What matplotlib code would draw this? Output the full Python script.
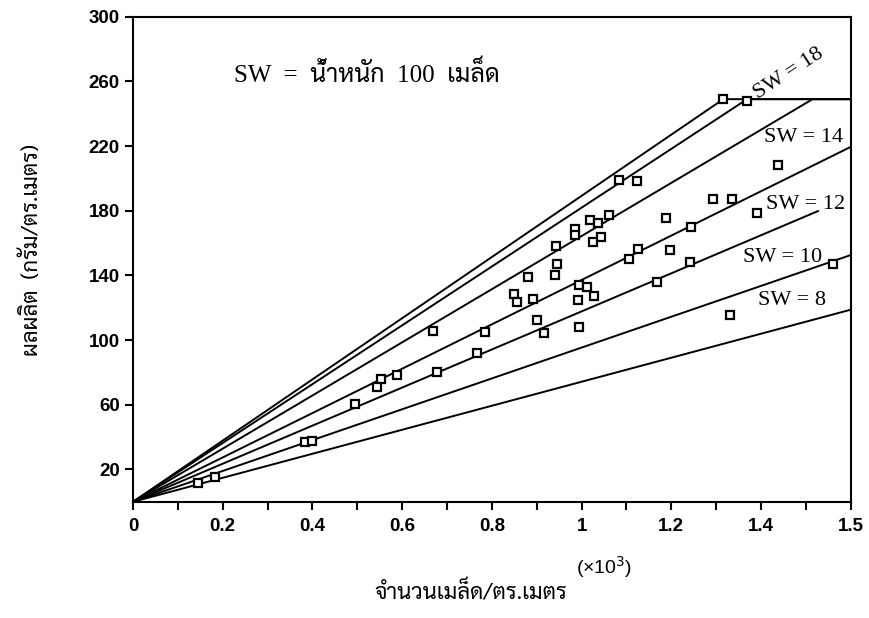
import numpy as np
import matplotlib
matplotlib.use("Agg")
import matplotlib.pyplot as plt

# seed density (x10^3 seeds/m2) vs yield (g/m2)
x_pts = [1.084, 1.124, 1.292, 1.336, 1.390, 1.188, 1.061, 1.018, 1.036, 0.985,
         0.985, 1.043, 1.026, 0.942, 1.126, 1.197, 1.106, 0.946, 1.241, 0.940,
         0.880, 0.995, 1.013, 1.027, 0.850, 0.857, 0.891, 0.992, 1.169, 1.245,
         0.901, 0.916, 0.994, 0.784, 0.668, 0.768, 0.552, 0.543, 0.588, 0.677,
         0.495, 0.383, 0.398, 0.183, 0.146, 1.438, 1.561, 1.330, 1.316, 1.369]
y_pts = [198.9, 198.3, 187.1, 187.1, 178.3, 175.6, 177.2, 174.5, 172.7, 168.9,
         165.2, 163.8, 160.7, 158.0, 156.5, 155.5, 149.9, 146.8, 148.6, 140.4,
         139.3, 134.2, 132.7, 127.5, 128.6, 123.8, 125.5, 124.8, 136.2, 170.0,
         112.6, 104.3, 107.9, 104.8, 105.8, 92.3, 76.2, 71.0, 78.4, 80.3,
         60.7, 36.8, 37.4, 15.1, 11.6, 208.2, 147.2, 115.5, 249.0, 248.0]

# reference lines for different 100-seed weights (SW)
line_x = [[0, 1.316, 1.6], [0, 1.369, 1.6], [0, 1.515, 1.6],
          [0, 1.6], [0, 1.527], [0, 1.6], [0, 1.6]]
line_y = [[0, 249, 249], [0, 249, 249], [0, 249, 249],
          [0, 219.5], [0, 179.8], [0, 152.6], [0, 118.8]]

sw_labels = ["SW = 18", "SW = 14", "SW = 12", "SW = 10", "SW = 8"]
sw_pos = [(1.462, 265), (1.495, 225), (1.50, 184), (1.447, 151), (1.47, 124.5)]
sw_rot = [33, 0, 0, 0, 0]

xticks = [0, 0.2, 0.4, 0.6, 0.8, 1.0, 1.2, 1.4, 1.6]
xticklabels = ["0", "0.2", "0.4", "0.6", "0.8", "1", "1.2", "1.4", "1.5"]
yticks = [20, 60, 100, 140, 180, 220, 260, 300]

thai = ["Sarabun", "DejaVu Sans"]
serif_thai = ["Liberation Serif", "Sarabun", "DejaVu Sans"]

fig = plt.figure(figsize=(8.69, 6.18), dpi=100)
ax = fig.add_axes([0.153, 0.188, 0.826, 0.785])

for lx, ly in zip(line_x, line_y):
    ax.plot(lx, ly, color="black", lw=1.4, zorder=2)

ax.plot(x_pts, y_pts, linestyle="none", marker="s", ms=6, mfc="white",
        mec="black", mew=1.6, zorder=3)

for lab, (tx, ty), rot in zip(sw_labels, sw_pos, sw_rot):
    ax.text(tx, ty, lab, ha="center", va="center", rotation=rot,
            fontsize=16, family="Liberation Serif", zorder=4)

ax.text(0.225, 265, "SW  =  น้ำหนัก  100  เมล็ด", ha="left", va="center",
        fontsize=18, family=serif_thai)

ax.set_xlim(0, 1.6)
ax.set_ylim(0, 300)
ax.set_xticks(xticks)
ax.set_xticklabels(xticklabels)
ax.set_xticks(np.arange(0.1, 1.6, 0.2), minor=True)
ax.set_yticks(yticks)
ax.tick_params(axis="both", which="both", direction="out", length=6, width=1.5,
               labelsize=13.5)
ax.tick_params(axis="x", pad=6)
for lbl in ax.get_xticklabels() + ax.get_yticklabels():
    lbl.set_fontweight("bold")
    lbl.set_family("Liberation Sans")
for sp in ax.spines.values():
    sp.set_linewidth(1.5)

ax.set_ylabel("ผลผลิต  (กรัม/ตร.เมตร)", fontsize=16, family=thai)
ax.yaxis.set_label_coords(-0.125, 0.52)
ax.set_xlabel("จำนวนเมล็ด/ตร.เมตร", fontsize=16, family=thai)
ax.xaxis.set_label_coords(0.47, -0.165)
ax.text(1.05, -0.135, "(×10$^3$)", transform=ax.get_xaxis_transform(),
        ha="center", va="center", fontsize=14, family="Liberation Sans")

fig.savefig("out.png")
